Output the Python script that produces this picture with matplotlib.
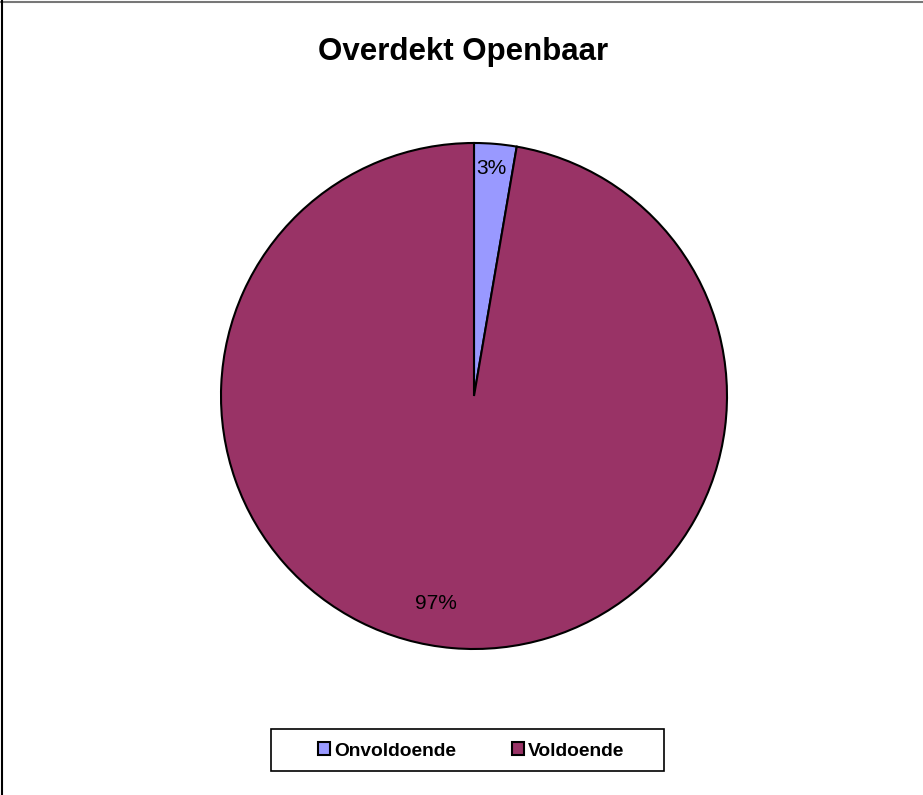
import matplotlib.pyplot as plt
from matplotlib.lines import Line2D
from matplotlib.patches import Rectangle

# Data
labels = ['Onvoldoende', 'Voldoende']
counts = [1, 36]
colors = ['#9999FF', '#993366']

plt.rcParams['font.family'] = ['Liberation Sans', 'DejaVu Sans']

fig = plt.figure(figsize=(9.23, 7.95), dpi=100)
fig.patch.set_facecolor('white')

# Pie axes: square box in pixels
ax = fig.add_axes([221 / 923, (795 - 649) / 795, 506 / 923, 506 / 795])
wedges, texts, autotexts = ax.pie(
    counts, colors=colors, startangle=90, counterclock=False,
    autopct='%1.0f%%', pctdistance=0.85, radius=1,
    wedgeprops=dict(edgecolor='black', linewidth=1.5),
    textprops=dict(fontsize=15, color='black'))
ax.set_xlim(-1.0, 1.0)
ax.set_ylim(-1.0, 1.0)
ax.set_aspect('equal')

# Fine-tune label placement like the original
autotexts[0].set_position((0.07, 0.90))
autotexts[1].set_position((-0.15, -0.82))

fig.text(0.502, 0.935, 'Overdekt Openbaar', ha='center', va='center',
         fontsize=22.5, fontweight='bold')

# Legend with hand-drawn frame
fig.add_artist(Rectangle((271 / 923, (795 - 771) / 795), 393 / 923, 42 / 795,
                         transform=fig.transFigure, fill=False,
                         edgecolor='black', linewidth=1.2))
leg = fig.legend(wedges, labels, loc='center', ncol=2,
                 bbox_to_anchor=(471 / 923, (795 - 751) / 795),
                 frameon=False, prop=dict(size=13.8, weight='bold'),
                 handlelength=0.65, handleheight=0.65, handletextpad=0.2,
                 columnspacing=2.9)

# Outer border fragments
fig.add_artist(Line2D([0, 1], [1 - 2 / 795, 1 - 2 / 795], color='#777777',
                      linewidth=1.5, transform=fig.transFigure))
fig.add_artist(Line2D([2 / 923, 2 / 923], [0, 1], color='black',
                      linewidth=1.5, transform=fig.transFigure))

fig.savefig('out.png', dpi=100)
